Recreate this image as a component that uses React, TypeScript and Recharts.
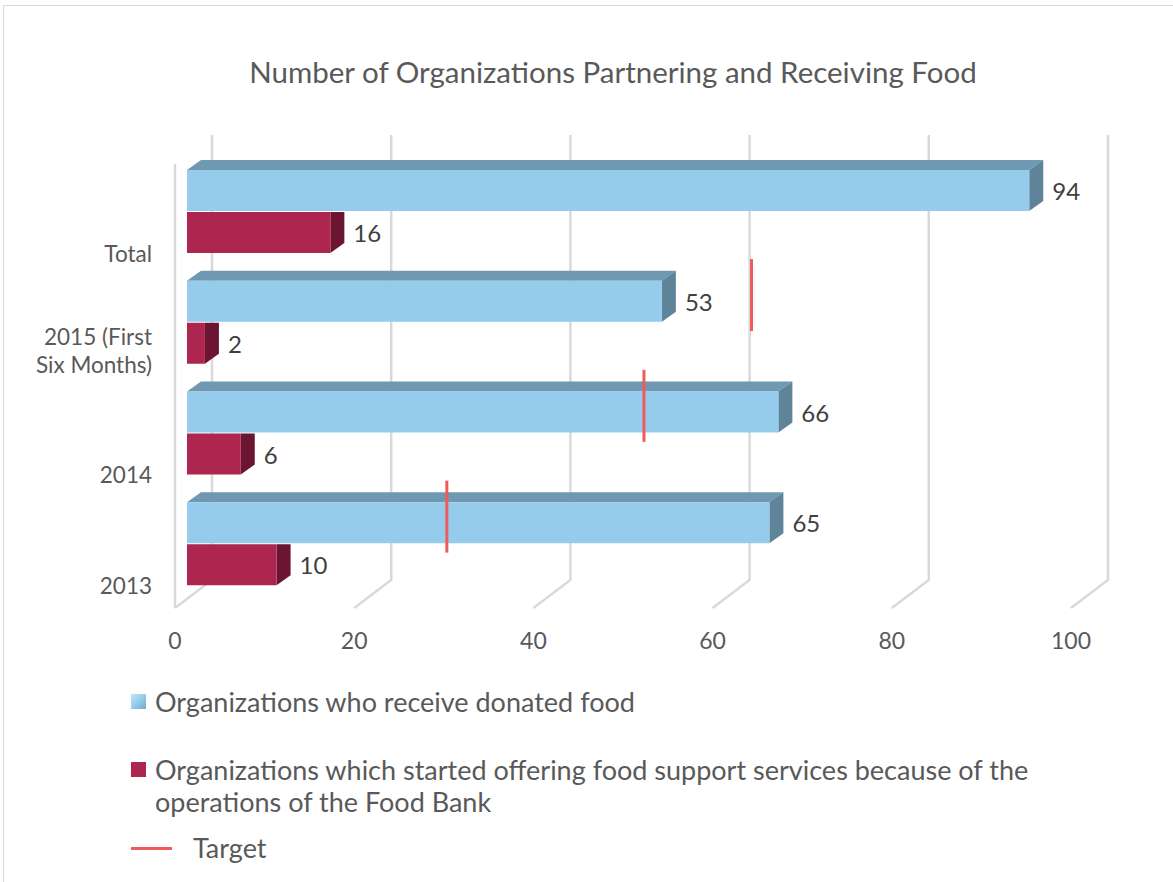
import React from 'react';
import {
  Bar,
  CartesianGrid,
  ComposedChart,
  LabelList,
  Legend,
  Scatter,
  XAxis,
  YAxis,
} from 'recharts';

const categories = ['Total', '2015 (First Six Months)', '2014', '2013'];
const receivedFood = [94, 53, 66, 65];
const startedServices = [16, 2, 6, 10];
const targetValues = [null, 63, 51, 29];
const xTicks = [0, 20, 40, 60, 80, 100];

const seriesNames = {
  received: 'Organizations who receive donated food',
  started: 'Organizations which started offering food support services because of the operations of the Food Bank',
  target: 'Target',
};

const FONT = 'Lato, "Open Sans", sans-serif';
const BLUE = { front: '#95CCEB', top: '#6F98B1', side: '#5F8399' };
const RED = { front: '#AC2650', top: '#8A1E40', side: '#6C1533' };
const TARGET = '#EF5A5A';
const GRID = '#D9D9D9';
const DX = 14;
const DY = 10;

const data = categories.map((name, i) => ({
  name,
  received: receivedFood[i],
  started: startedServices[i],
}));

const targetData = categories
  .map((name, i) => ({ name, idx: i + 0.5, target: targetValues[i] }))
  .filter((d) => d.target != null);

function Bar3D(props: any) {
  const { x, y, width, height, faces, showTop } = props;
  const x2 = x + width;
  const side = showTop
    ? `${x2},${y} ${x2 + DX},${y - DY} ${x2 + DX},${y + height - DY} ${x2},${y + height}`
    : `${x2},${y} ${x2 + DX},${y} ${x2 + DX},${y + height - DY} ${x2},${y + height}`;
  return (
    <g>
      {showTop && (
        <polygon points={`${x},${y} ${x + DX},${y - DY} ${x2 + DX},${y - DY} ${x2},${y}`} fill={faces.top} />
      )}
      <polygon points={side} fill={faces.side} />
      <rect x={x} y={y} width={width} height={height} fill={faces.front} />
    </g>
  );
}

function GridLine3D(props: any) {
  const { x1, y1, y2, index } = props;
  const back = x1 + 25;
  const front = x1 - 12;
  return (
    <g key={`g-${index}`}>
      <path
        d={`M${back},${y1 - 21} L${back},${y2 - 19} L${front},${y2 + 9}`}
        fill="none"
        stroke={GRID}
        strokeWidth={2.5}
      />
      {index === 0 && (
        <line x1={front} y1={y1 + 8} x2={front} y2={y2 + 9} stroke={GRID} strokeWidth={2.5} />
      )}
    </g>
  );
}

function CategoryTick(props: any) {
  const { x, y, payload } = props;
  const words = String(payload.value).split(' ');
  const lines: string[] = [];
  words.forEach((w) => {
    const last = lines[lines.length - 1];
    if (last && (last + ' ' + w).length <= 11) lines[lines.length - 1] = last + ' ' + w;
    else lines.push(w);
  });
  const bottom = y + 42;
  return (
    <g>
      {lines.map((l, i) => (
        <text
          key={i}
          x={x - 27}
          y={bottom - (lines.length - 1 - i) * 28}
          textAnchor="end"
          dominantBaseline="central"
          fontFamily={FONT}
          fontSize={22.5}
          fill="#595959"
        >
          {l}
        </text>
      ))}
    </g>
  );
}

function ValueTick(props: any) {
  const { x, y, payload } = props;
  return (
    <text
      x={x - 12}
      y={y + 33}
      textAnchor="middle"
      dominantBaseline="central"
      fontFamily={FONT}
      fontSize={23}
      fill="#595959"
    >
      {payload.value}
    </text>
  );
}

function ValueLabel(props: any) {
  const { x, y, width, height, value } = props;
  return (
    <text
      x={x + width + 23}
      y={y + height / 2}
      dominantBaseline="central"
      fontFamily={FONT}
      fontSize={24}
      fill="#404040"
    >
      {value}
    </text>
  );
}

function TargetMark(props: any) {
  const { cx, cy } = props;
  return <line x1={cx} y1={cy - 63} x2={cx} y2={cy + 9} stroke={TARGET} strokeWidth={3} />;
}

function LegendBox() {
  const text = { fontFamily: FONT, fontSize: 27, color: '#595959', lineHeight: '32px' };
  return (
    <div style={{ position: 'relative', width: 1173, height: 200 }}>
      <div style={{ position: 'absolute', left: 131, top: 7, display: 'flex', alignItems: 'flex-start' }}>
        <div
          style={{
            width: 15,
            height: 15,
            marginTop: 8,
            background: 'linear-gradient(135deg, #C4E6F7 0%, #95CCEB 50%, #6FA9CF 100%)',
          }}
        />
        <div style={{ ...text, marginLeft: 9 }}>{seriesNames.received}</div>
      </div>
      <div style={{ position: 'absolute', left: 131, top: 75, display: 'flex', alignItems: 'flex-start' }}>
        <div style={{ width: 15, height: 15, marginTop: 8, background: RED.front }} />
        <div style={{ ...text, marginLeft: 9, width: 900 }}>{seriesNames.started}</div>
      </div>
      <div style={{ position: 'absolute', left: 131, top: 153, display: 'flex', alignItems: 'center' }}>
        <div style={{ width: 41, height: 3, background: TARGET }} />
        <div style={{ ...text, marginLeft: 21 }}>{seriesNames.target}</div>
      </div>
    </div>
  );
}

export default function App() {
  return (
    <div
      style={{
        position: 'absolute',
        left: 0,
        top: 0,
        width: 1173,
        height: 882,
        overflow: 'hidden',
        background: '#fff',
      }}
    >
      <div
        style={{
          position: 'absolute',
          left: 3,
          top: 5,
          width: 1200,
          height: 900,
          border: '1px solid #D9D9D9',
        }}
      />
      <div
        style={{
          position: 'absolute',
          left: 0,
          top: 53,
          width: 1226,
          textAlign: 'center',
          fontFamily: FONT,
          fontSize: 29.5,
          color: '#595959',
          lineHeight: '38px',
        }}
      >
        Number of Organizations Partnering and Receiving Food
      </div>
      <div style={{ position: 'absolute', left: 0, top: 0 }}>
        <ComposedChart
          width={1173}
          height={882}
          data={data}
          layout="vertical"
          margin={{ top: 156, right: 90, bottom: 253, left: 0 }}
          barSize={41}
          barGap={1}
        >
          <CartesianGrid horizontal={false} vertical={GridLine3D} />
          <XAxis
            type="number"
            domain={[0, 100]}
            ticks={xTicks}
            axisLine={false}
            tickLine={false}
            height={30}
            tick={ValueTick}
          />
          <YAxis
            type="category"
            dataKey="name"
            width={187}
            axisLine={false}
            tickLine={false}
            tick={CategoryTick}
            interval={0}
          />
          <YAxis yAxisId="idx" type="number" dataKey="idx" domain={[0, 4]} hide />
          <Legend
            layout="horizontal"
            verticalAlign="middle"
            align="center"
            wrapperStyle={{ left: 0, top: 679, width: 1173, height: 200 }}
            content={LegendBox}
          />
          <Bar
            dataKey="received"
            name={seriesNames.received}
            fill={BLUE.front}
            isAnimationActive={false}
            shape={(p: any) => <Bar3D {...p} faces={BLUE} showTop />}
          >
            <LabelList dataKey="received" content={ValueLabel} />
          </Bar>
          <Bar
            dataKey="started"
            name={seriesNames.started}
            fill={RED.front}
            isAnimationActive={false}
            shape={(p: any) => <Bar3D {...p} faces={RED} showTop={false} />}
          >
            <LabelList dataKey="started" content={ValueLabel} />
          </Bar>
          <Scatter
            yAxisId="idx"
            data={targetData}
            dataKey="target"
            name={seriesNames.target}
            fill={TARGET}
            isAnimationActive={false}
            shape={TargetMark}
          />
        </ComposedChart>
      </div>
    </div>
  );
}
